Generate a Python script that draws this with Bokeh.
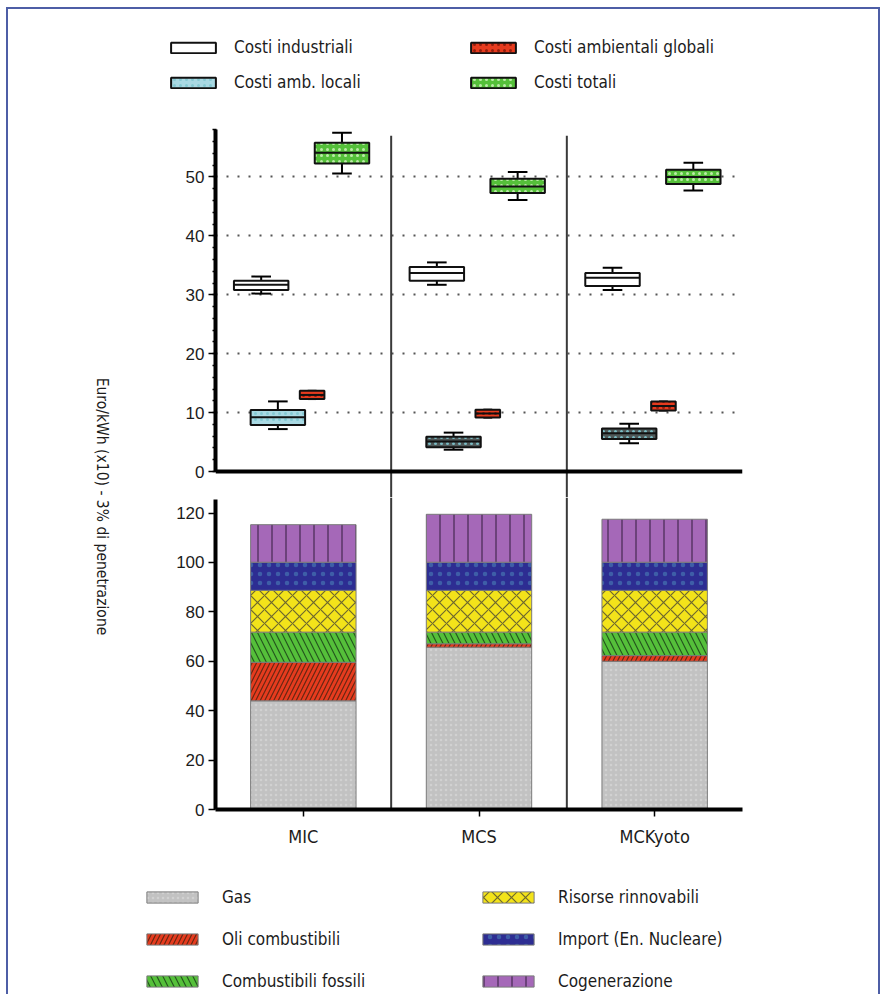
import numpy as np
from bokeh.plotting import figure
from bokeh.models import (ColumnDataSource, Range1d, FactorRange, FixedTicker,
                          Legend, LegendItem, Span, Label)
from bokeh.transform import dodge
from bokeh.layouts import row, column
from bokeh.embed import file_html
from bokeh.resources import INLINE

# ---------------- data ----------------
cats = ["MIC", "MCS", "MCKyoto"]

# box plots, Euro/kWh (x10): low whisker, Q1, median, Q3, high whisker
ind_lo = [30.2, 31.7, 30.8]
ind_q1 = [30.8, 32.4, 31.5]
ind_md = [31.7, 33.7, 32.9]
ind_q3 = [32.4, 34.7, 33.7]
ind_hi = [33.1, 35.5, 34.6]

loc_lo = [7.2, 3.7, 4.8]
loc_q1 = [7.9, 4.1, 5.5]
loc_md = [9.2, 5.1, 6.5]
loc_q3 = [10.45, 5.9, 7.3]
loc_hi = [11.9, 6.6, 8.1]

glo_lo = [12.3, 9.15, 10.35]
glo_q1 = [12.3, 9.15, 10.35]
glo_md = [13.0, 9.85, 11.1]
glo_q3 = [13.7, 10.5, 11.9]
glo_hi = [13.7, 10.5, 11.9]

tot_lo = [50.6, 46.1, 47.7]
tot_q1 = [52.3, 47.3, 48.8]
tot_md = [54.1, 48.4, 50.0]
tot_q3 = [55.8, 49.7, 51.25]
tot_hi = [57.5, 50.85, 52.4]

# stacked bars
gas = [44.0, 65.7, 60.0]
oli = [15.6, 1.4, 2.3]
fossili = [12.2, 4.7, 9.5]
rinnovabili = [16.9, 16.9, 16.9]
importn = [11.4, 11.4, 11.4]
cogenerazione = [15.2, 19.4, 17.4]

top_ticks = [0, 10, 20, 30, 40, 50]
bot_ticks = [0, 20, 40, 60, 80, 100, 120]

NARROW = "DejaVu Sans Condensed"
SANS = "Liberation Sans"
TXT = "#1c1c1c"
BORDER = "#4d5ea6"

LW = 130
FIG_W = 740
ML, MR = 77, 136
LEG1_H, TOP_H, BOT_H, LEG2_H = 101, 387, 368, 129


def bare(fig):
    fig.outline_line_color = None
    fig.background_fill_color = None
    fig.border_fill_color = None
    return fig


def legend_fig(height):
    # a strip that only carries a legend: it has a plain numeric x-range, so the
    # category-positioned renderers it holds (sharing the real data) are not painted,
    # only their legend swatches are
    f = bare(figure(width=FIG_W, height=height, x_range=Range1d(0, 1),
                    y_range=Range1d(0, 1), x_axis_location=None,
                    y_axis_location=None, output_backend="svg", toolbar_location=None,
                    min_border=0, frame_align=False))
    f.grid.visible = False
    return f


# ---------------- top: box plots ----------------
xr = FactorRange(*cats)
p1 = bare(figure(width=FIG_W, height=TOP_H, x_range=xr, y_range=Range1d(-4.414, 61.29),
                 x_axis_location=None, output_backend="svg", toolbar_location=None,
                 min_border_left=ML, min_border_right=MR, min_border_top=0,
                 min_border_bottom=0))
for g in p1.grid:
    if g.dimension == 0:
        g.visible = False
p1.ygrid.ticker = FixedTicker(ticks=top_ticks[1:])
p1.ygrid.grid_line_color = "#555555"
p1.ygrid.grid_line_dash = "2 9"
p1.ygrid.grid_line_width = 2
p1.yaxis.ticker = FixedTicker(ticks=top_ticks, minor_ticks=list(range(0, 59, 2)))
p1.yaxis.bounds = (0, 58.06)
p1.yaxis.axis_line_width = 4
p1.yaxis.major_tick_out = 7
p1.yaxis.major_tick_in = 0
p1.yaxis.minor_tick_out = 3
p1.yaxis.minor_tick_in = 1
p1.yaxis.major_tick_line_width = 1.5
p1.yaxis.minor_tick_line_width = 1.5
p1.yaxis.major_label_standoff = 4
p1.yaxis.major_label_text_font = SANS
p1.yaxis.major_label_text_font_size = "17px"
p1.yaxis.major_label_text_color = TXT
p1.add_layout(Span(location=0, dimension="width", line_color="black", line_width=4))

sep = ColumnDataSource(dict(cat=cats[:-1]))
p1.segment(x0=dodge("cat", 0.5, range=xr), x1=dodge("cat", 0.5, range=xr),
           y0=p1.y_range.start, y1=57.0, source=sep, line_color="#3a3a3a", line_width=2)

box_series = [
    ("Costi industriali", -0.24, 0.31, ind_lo, ind_q1, ind_md, ind_q3, ind_hi,
     ["white"] * 3, "blank", "white"),
    ("Costi amb. locali", -0.145, 0.31, loc_lo, loc_q1, loc_md, loc_q3, loc_hi,
     ["#a9d9e3", "#4f5858", "#4f5858"], ".", "#7fc6cf"),
    ("Costi ambientali globali", 0.05, 0.14, glo_lo, glo_q1, glo_md, glo_q3, glo_hi,
     ["#e63b1e"] * 3, ".", "#8a1a0a"),
    ("Costi totali", 0.22, 0.31, tot_lo, tot_q1, tot_md, tot_q3, tot_hi,
     ["#55c03a"] * 3, ".", "#c6f0b4"),
]

pl1 = legend_fig(LEG1_H)
items1 = []
for name, off, w, lo, q1, md, q3, hi, fills, hatch, hcol in box_series:
    src = ColumnDataSource(dict(cat=cats, lo=lo, q1=q1, md=md, q3=q3, hi=hi, fill=fills))
    xc = dodge("cat", off, range=xr)
    cw = w * 0.36
    p1.segment(x0=xc, x1=xc, y0="q3", y1="hi", source=src, line_color="black", line_width=2)
    p1.segment(x0=xc, x1=xc, y0="lo", y1="q1", source=src, line_color="black", line_width=2)
    p1.segment(x0=dodge("cat", off - cw / 2, range=xr), x1=dodge("cat", off + cw / 2, range=xr),
               y0="hi", y1="hi", source=src, line_color="black", line_width=2)
    p1.segment(x0=dodge("cat", off - cw / 2, range=xr), x1=dodge("cat", off + cw / 2, range=xr),
               y0="lo", y1="lo", source=src, line_color="black", line_width=2)
    style = dict(fill_color="fill", line_color="#111111", line_width=2, hatch_pattern=hatch,
                 hatch_color=hcol, hatch_scale=6, hatch_alpha=0.9)
    p1.vbar(x=xc, width=w, bottom="q1", top="q3", source=src, **style)
    p1.segment(x0=dodge("cat", off - w / 2, range=xr), x1=dodge("cat", off + w / 2, range=xr),
               y0="md", y1="md", source=src, line_color="#111111", line_width=2)
    r = pl1.vbar(x="cat", width=w, bottom="q1", top="q3", source=src, **style)
    items1.append(LegendItem(label=name, renderers=[r]))

leg1 = Legend(items=items1, ncols=2, orientation="vertical", location=(27, 16),
              border_line_color=None, background_fill_alpha=0, padding=0, margin=0,
              glyph_width=56, glyph_height=13, label_height=24, label_width=220,
              label_standoff=13, spacing=11, label_text_font=NARROW,
              label_text_font_size="17px", label_text_color=TXT)
pl1.add_layout(leg1)

# ---------------- bottom: stacked bars ----------------
p2 = bare(figure(width=FIG_W, height=BOT_H, x_range=xr, y_range=Range1d(0, 126.3),
                 output_backend="svg", toolbar_location=None,
                 min_border_left=ML, min_border_right=MR, min_border_top=0,
                 min_border_bottom=BOT_H - 312))
p2.xgrid.visible = False
p2.ygrid.visible = False
p2.yaxis.ticker = FixedTicker(ticks=bot_ticks)
p2.yaxis.bounds = (0, 125.5)
for ax in (p2.xaxis, p2.yaxis):
    ax.axis_line_width = 4
    ax.major_tick_out = 7
    ax.major_tick_in = 0
    ax.minor_tick_out = 0
    ax.minor_tick_in = 0
    ax.major_tick_line_width = 1.5
    ax.major_label_text_color = TXT
p2.yaxis.major_label_standoff = 4
p2.yaxis.major_label_text_font = SANS
p2.yaxis.major_label_text_font_size = "17px"
p2.xaxis.major_label_standoff = 9
p2.xaxis.major_label_text_font = NARROW
p2.xaxis.major_label_text_font_size = "18px"

p2.segment(x0=dodge("cat", 0.5, range=xr), x1=dodge("cat", 0.5, range=xr),
           y0=0, y1=p2.y_range.end, source=sep, line_color="#3a3a3a", line_width=2)

layers = [
    ("Gas", gas, "#c2c2c2", ".", "#dcdcdc", 5, 0.6),
    ("Oli combustibili", oli, "#e63b1e", "/", "#5a2410", 9, 0.9),
    ("Combustibili fossili", fossili, "#55c03a", "\\", "#1f4a1a", 12, 0.9),
    ("Risorse rinnovabili", rinnovabili, "#f3e31a", "x", "#5e5a30", 14, 0.9),
    ("Import (En. Nucleare)", importn, "#2d2d92", ".", "#4a7fb5", 9, 0.6),
    ("Cogenerazione", cogenerazione, "#a568b8", "|", "#3a2046", 14, 0.9),
]

pl2 = legend_fig(LEG2_H)
bottoms = np.zeros(len(cats))
items2 = []
for name, vals, color, hatch, hcol, hs, ha in layers:
    tops = bottoms + np.array(vals)
    src = ColumnDataSource(dict(cat=cats, bottom=bottoms.copy(), top=tops))
    style = dict(fill_color=color, line_color="#7a7a7a", line_width=1,
                 hatch_pattern=hatch, hatch_color=hcol, hatch_scale=hs, hatch_alpha=ha,
                 hatch_weight=1.2)
    p2.vbar(x="cat", width=0.6, bottom="bottom", top="top", source=src, **style)
    r = pl2.vbar(x="cat", width=0.6, bottom="bottom", top="top", source=src, **style)
    items2.append(LegendItem(label=name, renderers=[r]))
    bottoms = tops

leg2 = Legend(items=items2, ncols=2, orientation="vertical", location=(2, 1),
              border_line_color=None, background_fill_alpha=0, padding=0, margin=0,
              glyph_width=64, glyph_height=14, label_height=24, label_width=236,
              label_standoff=18, spacing=18, label_text_font=NARROW,
              label_text_font_size="17px", label_text_color=TXT)
pl2.add_layout(leg2)

# ---------------- left: shared y label ----------------
TOTAL_H = LEG1_H + TOP_H + BOT_H + LEG2_H
p0 = bare(figure(width=LW, height=TOTAL_H, x_range=Range1d(0, 1), y_range=Range1d(0, 1),
                 x_axis_location=None, y_axis_location=None, output_backend="svg",
                 toolbar_location=None, min_border=0, frame_align=False))
p0.grid.visible = False
p0.add_layout(Label(x=93, y=TOTAL_H - (506 - 9), x_units="screen", y_units="screen",
                    text="Euro/kWh (x10) - 3% di penetrazione", angle=-np.pi / 2,
                    text_align="center", text_baseline="middle", text_font=NARROW,
                    text_font_size="15.5px", text_color=TXT))

layout = row(p0, column(pl1, p1, p2, pl2),
             styles={"border-top": f"2px solid {BORDER}", "border-left": f"2px solid {BORDER}",
                     "border-right": f"2px solid {BORDER}", "margin-left": "6px",
                     "margin-top": "7px"})

open("out.html", "w").write(file_html(layout, INLINE))
